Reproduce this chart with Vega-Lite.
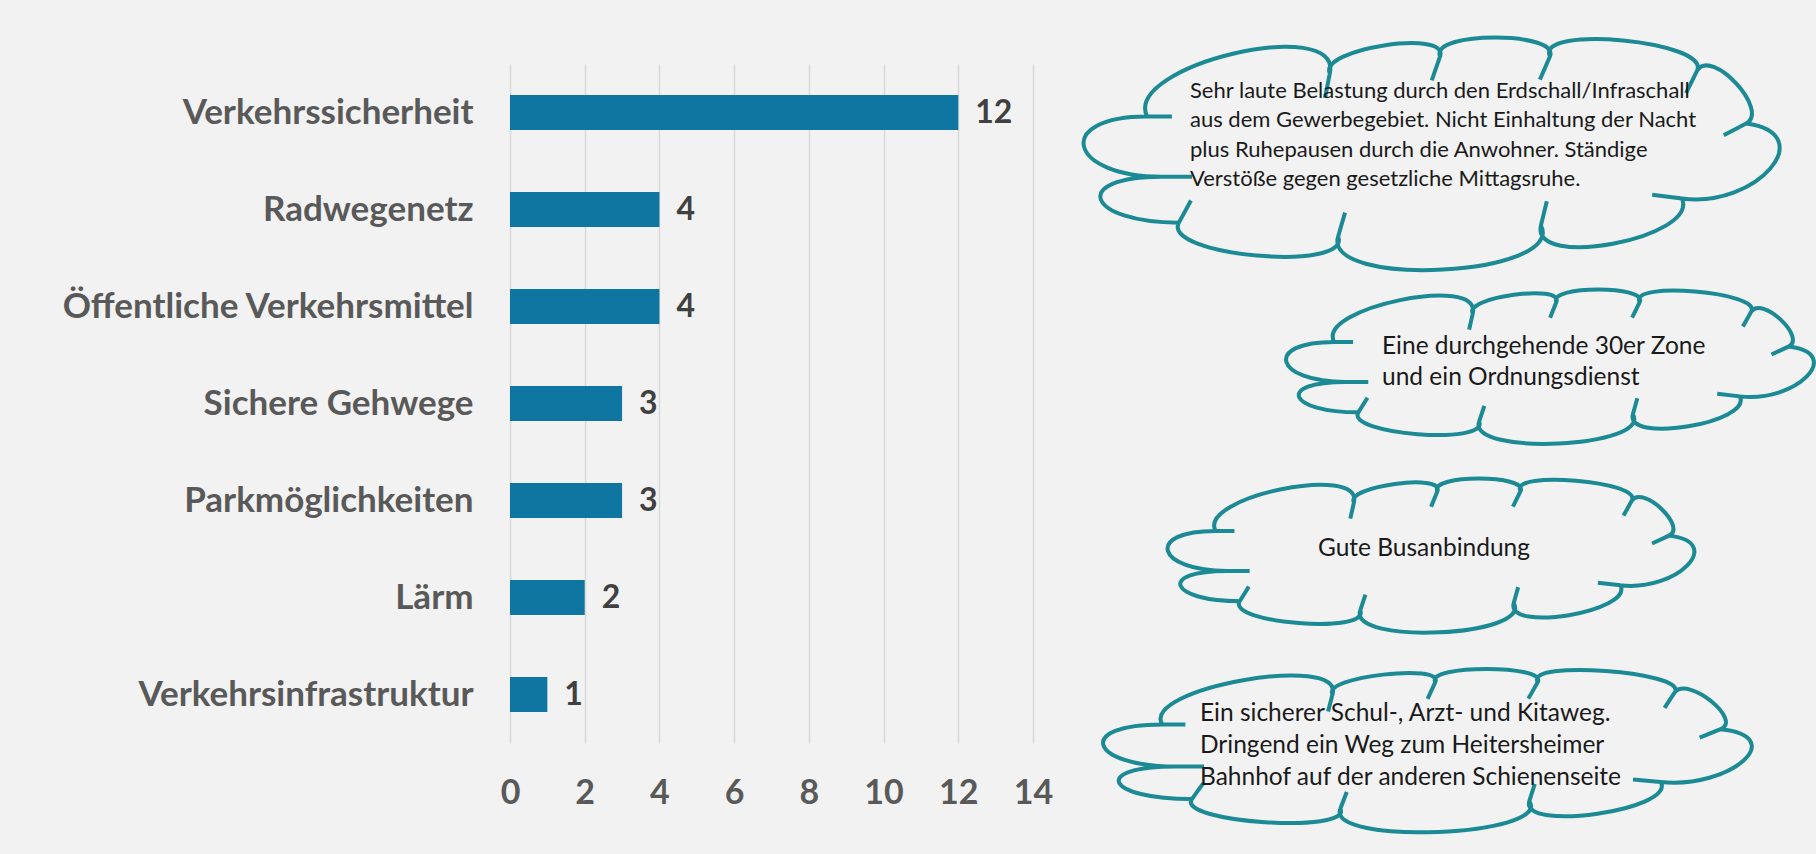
{
  "$schema": "https://vega.github.io/schema/vega-lite/v6.json",
  "background": "#F2F2F2",
  "padding": {"left": 60, "top": 29, "right": 0, "bottom": 13},
  "bounds": "flush",
  "spacing": 39,
  "config": {"view": {"stroke": null}, "font": "Lato"},
  "datasets": {
    "bars": [
      {"category": "Verkehrssicherheit", "value": 12},
      {"category": "Radwegenetz", "value": 4},
      {"category": "Öffentliche Verkehrsmittel", "value": 4},
      {"category": "Sichere Gehwege", "value": 3},
      {"category": "Parkmöglichkeiten", "value": 3},
      {"category": "Lärm", "value": 2},
      {"category": "Verkehrsinfrastruktur", "value": 1}
    ],
    "clouds": [
      {"id": "c1", "lines": ["Sehr laute Belastung durch den Erdschall/Infraschall", "aus dem Gewerbegebiet. Nicht Einhaltung der Nacht", "plus Ruhepausen durch die Anwohner. Ständige", "Verstöße gegen gesetzliche Mittagsruhe."]},
      {"id": "c2", "lines": ["Eine durchgehende 30er Zone", "und ein Ordnungsdienst"]},
      {"id": "c3", "lines": ["Gute Busanbindung"]},
      {"id": "c4", "lines": ["Ein sicherer Schul-, Arzt- und Kitaweg.", "Dringend ein Weg zum Heitersheimer", "Bahnhof auf der anderen Schienenseite"]}
    ]
  },
  "hconcat": [
    {
      "width": 523,
      "height": 679,
      "data": {"name": "bars"},
      "encoding": {
        "y": {
          "field": "category", "type": "nominal", "sort": null,
          "scale": {"paddingInner": 0.64, "paddingOuter": 0.32},
          "axis": {"title": null, "ticks": false, "domain": false, "grid": false, "labelFont": "Lato", "labelFontWeight": "bold", "labelFontSize": 35, "labelColor": "#595959", "labelPadding": 37, "labelLimit": 600, "minExtent": 449, "maxExtent": 449}
        },
        "x": {
          "field": "value", "type": "quantitative",
          "scale": {"domain": [0, 14], "nice": false},
          "axis": {"title": null, "ticks": false, "domain": false, "values": [0, 2, 4, 6, 8, 10, 12, 14], "labelFlush": false, "grid": true, "gridColor": "#D9D9D9", "gridWidth": 1.5, "labelFont": "Lato", "labelFontWeight": "bold", "labelFontSize": 34, "labelColor": "#595959", "labelPadding": 33}
        }
      },
      "layer": [
        {"mark": {"type": "bar", "color": "#0E76A0"}},
        {"mark": {"type": "text", "align": "left", "baseline": "middle", "dx": 17, "font": "Lato", "fontWeight": "bold", "fontSize": 32, "color": "#404040"}, "encoding": {"text": {"field": "value", "type": "quantitative"}}}
      ]
    },
    {
      "width": 714,
      "height": 776,
      "data": {"name": "clouds"},
      "encoding": {
        "y": {"field": "id", "type": "nominal", "scale": {"type": "point", "padding": 0.45, "domain": ["c1", "c2", "c3", "c4"]}, "axis": null}
      },
      "layer": [
        {
          "transform": [{"filter": "datum.id === 'c1'"}],
          "mark": {"type": "point", "filled": false, "opacity": 1, "color": "#1B8A94", "strokeWidth": 4, "size": 477481,
            "shape": "M-0.816,-0.107 C-0.887,-0.255 -0.251,-0.404 -0.287,-0.232 C-0.322,-0.302 0.060,-0.361 0.032,-0.281 C0,-0.354 0.382,-0.354 0.350,-0.281 C0.306,-0.374 0.816,-0.325 0.776,-0.240 C0.818,-0.308 0.988,-0.124 0.918,-0.087 C1.135,-0.058 0.949,0.159 0.732,0.130 C0.783,0.244 0.293,0.338 0.324,0.208 C0.397,0.354 -0.309,0.392 -0.263,0.240 C-0.223,0.345 -0.775,0.296 -0.724,0.200 C-0.992,0.200 -1.041,0.067 -0.773,0.067 C-1.045,0.067 -1.088,-0.107 -0.816,-0.107 M-0.816,-0.107 L-0.744,-0.107 M-0.287,-0.232 L-0.301,-0.161 M0.032,-0.281 L0.008,-0.212 M0.350,-0.281 L0.321,-0.214 M0.776,-0.240 L0.744,-0.175 M0.918,-0.087 L0.853,-0.053 M0.732,0.130 L0.646,0.119 M0.324,0.208 L0.341,0.138 M-0.263,0.240 L-0.243,0.171 M-0.724,0.200 L-0.689,0.136 M-0.773,0.067 L-0.686,0.067"}
        },
        {
          "transform": [{"filter": "datum.id === 'c2'"}],
          "mark": {"type": "point", "filled": false, "opacity": 1, "color": "#1B8A94", "strokeWidth": 4, "size": 274576, "xOffset": 119, "yOffset": 14,
            "shape": "M-0.816,-0.094 C-0.887,-0.223 -0.251,-0.354 -0.287,-0.203 C-0.322,-0.264 0.060,-0.316 0.032,-0.246 C0,-0.310 0.382,-0.310 0.350,-0.246 C0.306,-0.327 0.816,-0.284 0.776,-0.210 C0.818,-0.270 0.988,-0.109 0.918,-0.076 C1.135,-0.051 0.949,0.139 0.732,0.114 C0.783,0.214 0.293,0.296 0.324,0.182 C0.397,0.310 -0.309,0.343 -0.263,0.210 C-0.223,0.302 -0.775,0.259 -0.724,0.175 C-0.992,0.175 -1.041,0.059 -0.773,0.059 C-1.045,0.059 -1.088,-0.094 -0.816,-0.094 M-0.816,-0.094 L-0.744,-0.094 M-0.287,-0.203 L-0.301,-0.141 M0.032,-0.246 L0.008,-0.186 M0.350,-0.246 L0.321,-0.187 M0.776,-0.210 L0.744,-0.153 M0.918,-0.076 L0.853,-0.046 M0.732,0.114 L0.646,0.104 M0.324,0.182 L0.341,0.121 M-0.263,0.210 L-0.243,0.150 M-0.724,0.175 L-0.689,0.119 M-0.773,0.059 L-0.686,0.059"}
        },
        {
          "transform": [{"filter": "datum.id === 'c3'"}],
          "mark": {"type": "point", "filled": false, "opacity": 1, "color": "#1B8A94", "strokeWidth": 4, "size": 273529, "yOffset": 4,
            "shape": "M-0.816,-0.094 C-0.887,-0.223 -0.251,-0.354 -0.287,-0.203 C-0.322,-0.264 0.060,-0.316 0.032,-0.246 C0,-0.310 0.382,-0.310 0.350,-0.246 C0.306,-0.327 0.816,-0.284 0.776,-0.210 C0.818,-0.270 0.988,-0.109 0.918,-0.076 C1.135,-0.051 0.949,0.139 0.732,0.114 C0.783,0.214 0.293,0.296 0.324,0.182 C0.397,0.310 -0.309,0.343 -0.263,0.210 C-0.223,0.302 -0.775,0.259 -0.724,0.175 C-0.992,0.175 -1.041,0.059 -0.773,0.059 C-1.045,0.059 -1.088,-0.094 -0.816,-0.094 M-0.816,-0.094 L-0.744,-0.094 M-0.287,-0.203 L-0.301,-0.141 M0.032,-0.246 L0.008,-0.186 M0.350,-0.246 L0.321,-0.187 M0.776,-0.210 L0.744,-0.153 M0.918,-0.076 L0.853,-0.046 M0.732,0.114 L0.646,0.104 M0.324,0.182 L0.341,0.121 M-0.263,0.210 L-0.243,0.150 M-0.724,0.175 L-0.689,0.119 M-0.773,0.059 L-0.686,0.059"}
        },
        {
          "transform": [{"filter": "datum.id === 'c4'"}],
          "mark": {"type": "point", "filled": false, "opacity": 1, "color": "#1B8A94", "strokeWidth": 4, "size": 414736, "xOffset": -4,
            "shape": "M-0.816,-0.081 C-0.887,-0.192 -0.251,-0.304 -0.287,-0.175 C-0.322,-0.227 0.060,-0.272 0.032,-0.212 C0,-0.267 0.382,-0.267 0.350,-0.212 C0.306,-0.282 0.816,-0.245 0.776,-0.181 C0.818,-0.232 0.988,-0.093 0.918,-0.066 C1.135,-0.044 0.949,0.120 0.732,0.098 C0.783,0.184 0.293,0.255 0.324,0.157 C0.397,0.267 -0.309,0.295 -0.263,0.181 C-0.223,0.260 -0.775,0.223 -0.724,0.151 C-0.992,0.151 -1.041,0.050 -0.773,0.050 C-1.045,0.050 -1.088,-0.081 -0.816,-0.081 M-0.816,-0.081 L-0.744,-0.081 M-0.287,-0.175 L-0.301,-0.121 M0.032,-0.212 L0.008,-0.160 M0.350,-0.212 L0.321,-0.161 M0.776,-0.181 L0.744,-0.132 M0.918,-0.066 L0.853,-0.040 M0.732,0.098 L0.646,0.090 M0.324,0.157 L0.341,0.104 M-0.263,0.181 L-0.243,0.129 M-0.724,0.151 L-0.689,0.102 M-0.773,0.050 L-0.686,0.050"}
        },
        {
          "transform": [{"filter": "datum.id === 'c1'"}],
          "mark": {"type": "text", "align": "left", "baseline": "middle", "dx": -239, "dy": -63, "font": "Lato", "fontSize": 22, "lineHeight": 29.5, "color": "#1A1A1A"},
          "encoding": {"text": {"field": "lines"}}
        },
        {
          "transform": [{"filter": "datum.id === 'c2'"}],
          "mark": {"type": "text", "align": "left", "baseline": "middle", "dx": -47, "dy": -6, "font": "Lato", "fontSize": 24.5, "lineHeight": 31.6, "color": "#1A1A1A"},
          "encoding": {"text": {"field": "lines"}}
        },
        {
          "transform": [{"filter": "datum.id === 'c3'"}],
          "mark": {"type": "text", "align": "center", "baseline": "middle", "dx": -5, "dy": -2, "font": "Lato", "fontSize": 24.5, "lineHeight": 31.6, "color": "#1A1A1A"},
          "encoding": {"text": {"field": "lines"}}
        },
        {
          "transform": [{"filter": "datum.id === 'c4'"}],
          "mark": {"type": "text", "align": "left", "baseline": "middle", "dx": -229, "dy": -36, "font": "Lato", "fontSize": 24.5, "lineHeight": 31.6, "color": "#1A1A1A"},
          "encoding": {"text": {"field": "lines"}}
        }
      ]
    }
  ]
}
